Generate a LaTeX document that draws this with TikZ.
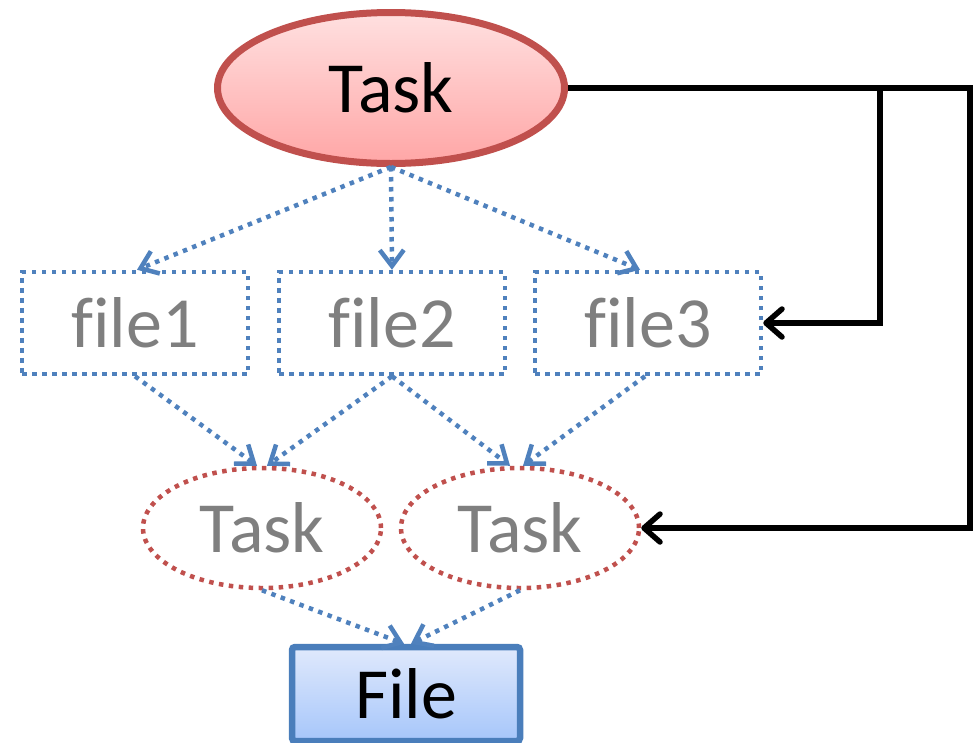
\documentclass[tikz,border=0pt]{standalone}
\usepackage{fontspec}
\setmainfont{Carlito}[Ligatures={NoCommon}]
\usetikzlibrary{shapes.geometric,arrows.meta}
\definecolor{offred}{HTML}{C0504D}
\definecolor{offblue}{HTML}{4F81BD}
\definecolor{fileblue}{HTML}{4A7EBB}
\definecolor{txtgray}{HTML}{7F7F7F}
\tikzset{
  big/.style={font=\fontsize{72}{86}\selectfont, inner sep=0pt},
  maintask/.style={big, ellipse, draw=offred, line width=7pt, minimum width=347pt, minimum height=151pt,
    top color={rgb,255:red,255;green,224;blue,224}, bottom color={rgb,255:red,255;green,166;blue,166}},
  filebox/.style={big, rectangle, draw=offblue, line width=4.5pt, dash pattern=on 4.5pt off 5.5pt,
    minimum width=226pt, minimum height=102pt, text=txtgray},
  subtask/.style={big, ellipse, draw=offred, line width=4.5pt, dash pattern=on 4.5pt off 5.5pt,
    minimum width=238pt, minimum height=120pt, text=txtgray},
  outfile/.style={big, rectangle, rounded corners=3pt, draw=fileblue, line width=6.5pt,
    minimum width=228pt, minimum height=94pt,
    top color={rgb,255:red,224;green,233;blue,252}, bottom color={rgb,255:red,166;green,198;blue,250}},
  dotarrow/.style={draw=offblue, line width=4.5pt, dash pattern=on 4.5pt off 5.5pt,
    -{Straight Barb[length=16pt,width=24pt,line width=4.5pt]}},
  blkarrow/.style={draw=black, line width=5.5pt, miter limit=10,
    -{Straight Barb[length=16pt,width=28pt,line width=5.5pt,round]}},
}
\begin{document}
\begin{tikzpicture}[x=1pt,y=-1pt]
\useasboundingbox (0,0) rectangle (973,742);
\node[maintask] (T) at (391,88) {Task};
\node[filebox] (f1) at (135,323) {file1};
\node[filebox] (f2) at (392,323) {file2};
\node[filebox] (f3) at (648,323) {file3};
\node[subtask] (tL) at (262,528) {Task};
\node[subtask] (tR) at (520,528) {Task};
\node[outfile] (F) at (406,694) {File};
% dotted arrows
\draw[dotarrow] (T.south) -- ([xshift=2pt]f1.north);
\draw[dotarrow] (T.south) -- (f2.north);
\draw[dotarrow] (T.south) -- ([xshift=-8pt]f3.north);
\draw[dotarrow] (f1.south) -- ([xshift=-5pt]tL.north);
\draw[dotarrow] (f2.south) -- ([xshift=5pt]tL.north);
\draw[dotarrow] (f2.south) -- ([xshift=-10pt]tR.north);
\draw[dotarrow] ([xshift=-3pt]f3.south) -- ([xshift=3pt]tR.north);
\draw[dotarrow] (tL.south) -- ([xshift=-2pt]F.north);
\draw[dotarrow] (tR.south) -- ([xshift=5pt]F.north);
% black connectors
\coordinate (cR) at (970,88);
\coordinate (cB) at (880,88);
\draw[blkarrow] (T.east) -- (cR) |- (tR.east);
\draw[blkarrow] (cB) |- (f3.east);
\end{tikzpicture}
\end{document}
